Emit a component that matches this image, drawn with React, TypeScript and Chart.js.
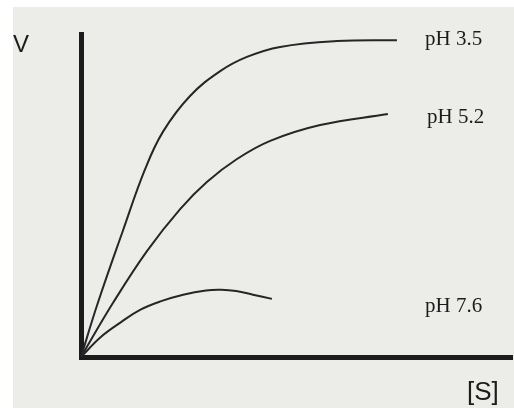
import React, { useEffect, useRef } from "react";
import { Chart, registerables } from "chart.js";

Chart.register(...registerables);

// Series (arbitrary units: [S] on x, V on y, both 0..100)
const seriesLabels = ["pH 3.5", "pH 5.2", "pH 7.6"];

const ph35X = [0, 3.9, 9.7, 14.8, 19.0, 25.3, 32.3, 38.5, 46.2, 59.4, 73.3];
const ph35Y = [0, 16.7, 39.0, 57.9, 69.7, 80.8, 88.5, 92.9, 96.0, 97.8, 98.1];

const ph52X = [0, 7.4, 15.3, 23.0, 29.2, 36.2, 43.9, 55.5, 71.2];
const ph52Y = [0, 16.7, 32.8, 45.8, 54.2, 61.3, 66.9, 71.8, 75.2];

const ph76X = [0, 4.6, 9.3, 13.7, 18.6, 23.7, 29.0, 32.5, 36.0, 39.9, 44.3];
const ph76Y = [0, 6.2, 10.8, 14.6, 17.3, 19.3, 20.6, 20.8, 20.4, 19.3, 18.0];

const axisTitleY = "V";
const axisTitleX = "[S]";

const toPoints = (xs: number[], ys: number[]) => xs.map((x, i) => ({ x, y: ys[i] }));

const W = 514;
const H = 408;
const PAPER = "#ecece9";
const INK = "#1c1c1c";

const backgroundPlugin = {
  id: "paper",
  beforeDraw(chart: any) {
    const ctx = chart.ctx;
    ctx.save();
    ctx.fillStyle = "#ffffff";
    ctx.fillRect(0, 0, chart.width, chart.height);
    ctx.fillStyle = PAPER;
    ctx.fillRect(13, 7, chart.width - 13, chart.height - 7);
    ctx.restore();
  },
};

const textPlugin = {
  id: "texts",
  afterDraw(chart: any) {
    const ctx = chart.ctx;
    const area = chart.chartArea;
    ctx.save();
    ctx.fillStyle = INK;
    ctx.textBaseline = "alphabetic";
    ctx.textAlign = "left";
    // axis titles
    ctx.font = "24px 'Liberation Sans Narrow', 'Liberation Sans', Arial, sans-serif";
    ctx.fillText(axisTitleY, 13, area.top + 18);
    ctx.font = "26px 'Liberation Sans', Arial, sans-serif";
    ctx.fillText(axisTitleX, 467, area.bottom + 43);
    // series labels
    ctx.font = "21px 'Liberation Serif', 'Times New Roman', serif";
    const labelPos = [
      [425, 45],
      [427, 123],
      [425, 312],
    ];
    seriesLabels.forEach((t, i) => {
      ctx.fillText(t, labelPos[i][0], labelPos[i][1]);
    });
    ctx.restore();
  },
};

export default function App() {
  const ref = useRef<HTMLCanvasElement | null>(null);

  useEffect(() => {
    if (!ref.current) return;
    const lineStyle = {
      borderColor: "#262626",
      borderWidth: 2,
      pointRadius: 0,
      showLine: true,
      fill: false,
      tension: 0.4,
    };
    const chart = new Chart(ref.current, {
      type: "scatter",
      data: {
        datasets: [
          { label: seriesLabels[0], data: toPoints(ph35X, ph35Y), ...lineStyle },
          { label: seriesLabels[1], data: toPoints(ph52X, ph52Y), ...lineStyle },
          { label: seriesLabels[2], data: toPoints(ph76X, ph76Y), ...lineStyle },
        ],
      },
      options: {
        responsive: false,
        animation: false,
        events: [],
        layout: { padding: { left: 81, top: 34, right: 2, bottom: 51 } },
        plugins: {
          legend: { display: false },
          tooltip: { enabled: false },
        },
        scales: {
          x: {
            type: "linear",
            min: 0,
            max: 100,
            grid: { display: false, drawTicks: false, tickLength: 0 },
            ticks: { display: false },
            border: { display: true, color: INK, width: 5 },
          },
          y: {
            type: "linear",
            min: 0,
            max: 100,
            grid: { display: false, drawTicks: false, tickLength: 0 },
            ticks: { display: false },
            border: { display: true, color: INK, width: 5 },
          },
        },
      },
      plugins: [backgroundPlugin, textPlugin],
    });
    return () => chart.destroy();
  }, []);

  return (
    <div style={{ position: "fixed", left: 0, top: 0, width: W, height: H }}>
      <canvas ref={ref} width={W} height={H} style={{ display: "block", width: W, height: H }} />
    </div>
  );
}
